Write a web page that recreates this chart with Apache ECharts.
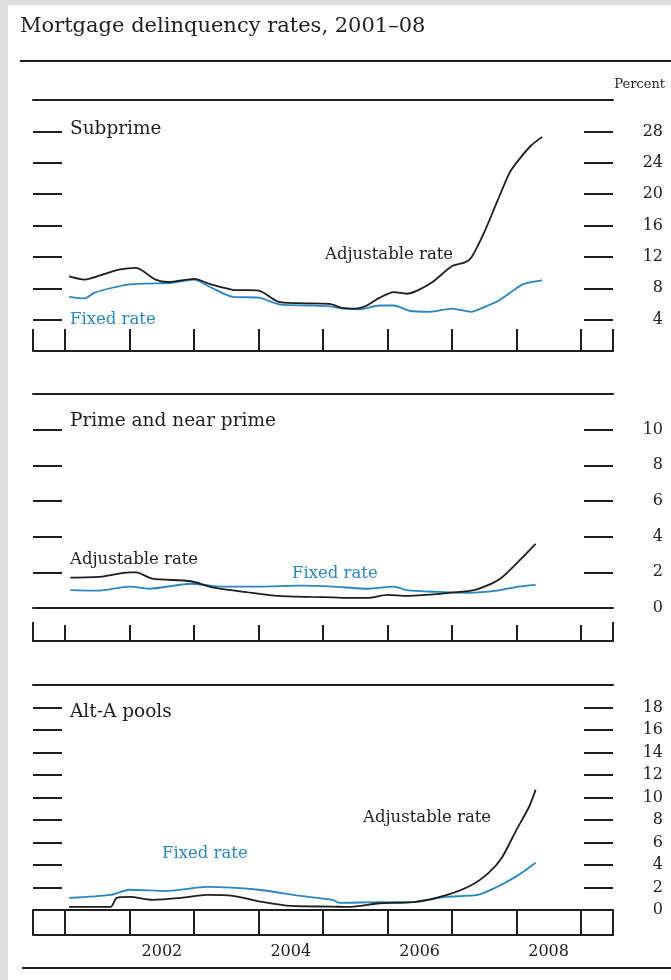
<!DOCTYPE html>
<html><head><meta charset="utf-8">
<script src="https://cdn.jsdelivr.net/npm/echarts@6/dist/echarts.min.js"></script>
<style>
html,body{margin:0;padding:0;background:#dedede;}
#wrap{position:relative;width:671px;height:980px;overflow:hidden;}
#paper{position:absolute;left:8px;top:5px;right:0;bottom:0;background:#fff;}
#chart{position:absolute;left:0;top:0;width:671px;height:980px;}
</style></head><body>
<div id="wrap"><div id="paper"></div><div id="chart"></div></div>
<script>
// ---------- data (decimal years, percent) ----------
const subprimeAdjX = [2001.06,2001.3,2001.6,2001.85,2002.1,2002.4,2002.6,2003.0,2003.26,2003.6,2004.0,2004.3,2004.6,2005.1,2005.3,2005.5,2005.68,2005.88,2006.1,2006.3,2006.46,2006.7,2007.0,2007.2,2007.3,2007.5,2007.7,2007.9,2008.05,2008.23,2008.4];
const subprimeAdjY = [9.5,9.1,9.8,10.4,10.6,9.1,8.8,9.2,8.5,7.8,7.7,6.3,6.1,6.0,5.5,5.4,5.8,6.8,7.5,7.3,7.7,8.8,10.8,11.3,11.9,15.1,19.0,22.8,24.5,26.2,27.3];
const subprimeFixX = [2001.06,2001.3,2001.45,2001.7,2002.0,2002.3,2002.65,2003.0,2003.26,2003.6,2004.0,2004.35,2004.8,2005.1,2005.3,2005.57,2005.88,2006.1,2006.35,2006.66,2007.0,2007.3,2007.5,2007.7,2007.9,2008.1,2008.4];
const subprimeFixY = [6.9,6.7,7.4,8.0,8.5,8.6,8.7,9.1,8.1,6.9,6.8,5.9,5.8,5.7,5.4,5.3,5.8,5.8,5.1,5.0,5.4,5.0,5.6,6.3,7.4,8.5,9.0];

const primeAdjX = [2001.08,2001.57,2002.0,2002.1,2002.35,2002.95,2003.3,2003.9,2004.3,2004.8,2005.15,2005.4,2005.7,2006.0,2006.3,2006.6,2006.95,2007.3,2007.57,2007.77,2008.03,2008.3];
const primeAdjY = [1.7,1.76,2.0,2.0,1.65,1.5,1.14,0.85,0.68,0.62,0.6,0.57,0.57,0.74,0.68,0.74,0.85,0.97,1.3,1.7,2.6,3.6];
const primeFixX = [2001.08,2001.5,2002.0,2002.3,2002.95,2003.4,2004.0,2004.65,2005.15,2005.7,2006.1,2006.3,2006.8,2007.25,2007.7,2008.03,2008.3];
const primeFixY = [1.0,0.97,1.2,1.08,1.36,1.2,1.2,1.25,1.2,1.08,1.2,1.0,0.9,0.85,0.97,1.2,1.3];

const altaAdjX = [2001.06,2001.7,2001.8,2002.0,2002.35,2002.8,2003.2,2003.6,2004.08,2004.5,2005.15,2005.4,2005.88,2006.4,2006.9,2007.3,2007.57,2007.77,2008.0,2008.2,2008.3];
const altaAdjY = [0.27,0.27,1.07,1.16,0.9,1.07,1.34,1.25,0.7,0.36,0.3,0.27,0.6,0.7,1.3,2.2,3.3,4.6,7.1,9.2,10.7];
const altaFixX = [2001.06,2001.7,2002.0,2002.6,2003.2,2004.0,2004.65,2005.15,2005.25,2005.88,2006.4,2006.9,2007.4,2007.7,2008.03,2008.3];
const altaFixY = [1.07,1.34,1.8,1.7,2.05,1.8,1.25,0.9,0.63,0.7,0.7,1.16,1.34,2.05,3.1,4.2];

// ---------- axes / labels ----------
const xMin = 2000.5, xMax = 2009.5;
const yearLabels = ['2002','2004','2006','2008'];
const panelNames = ['Subprime','Prime and near prime','Alt-A pools'];
const panelMax = [32, 12, 20];
const panelInterval = [4, 2, 2];
const title = 'Mortgage delinquency rates, 2001\u201308';
const unitLabel = 'Percent';
const adjLabel = 'Adjustable rate';
const fixLabel = 'Fixed rate';

// ---------- styling ----------
const FONT = '"DejaVu Serif", serif';
const INK = '#1e1e1e';
const BLUE = '#2a86c1';

const halfYears = [];
for (let v = xMin; v <= xMax + 1e-9; v += 0.5) halfYears.push(String(v));
const isEdge = i => i === 0 || i === halfYears.length - 1;
const isTick = (i, v) => Number.isInteger(Number(v)) || isEdge(i);
const labelOf = v => String(Number(v) - 0.5);
const isLabel = (i, v) => yearLabels.indexOf(labelOf(v)) >= 0;

const grids = [
  {left: 33, right: 58, top: 100, height: 251},
  {left: 33, right: 58, top: 394, height: 214},
  {left: 33, right: 58, top: 685, height: 225}
];
// bottom axis rows per panel: [offset, tick length, labels, tick filter]
const rows = [
  [[0, 22, false, isTick]],
  [[0, 0, false, isTick], [33, 16, false, isTick], [33, 19, false, isEdge]],
  [[0, 0, false, isTick], [25, 25, true, isTick]]
];

const xAxis = [], yAxis = [], series = [];
const valueAxisIdx = [];
grids.forEach((g, i) => {
  valueAxisIdx.push(xAxis.length);
  xAxis.push({type: 'value', gridIndex: i, position: 'top', min: xMin, max: xMax,
    axisLine: {show: true, onZero: false, lineStyle: {color: INK, width: 2}},
    axisTick: {show: false}, axisLabel: {show: false}, splitLine: {show: false}});
  rows[i].forEach(r => {
    xAxis.push({type: 'category', gridIndex: i, position: 'bottom', offset: r[0],
      data: halfYears, boundaryGap: false,
      axisLine: {show: true, onZero: false, lineStyle: {color: INK, width: 2}},
      axisTick: {show: r[1] > 0, inside: true, length: r[1], interval: r[3],
        lineStyle: {color: INK, width: 2}},
      axisLabel: {show: r[2], interval: isLabel, formatter: labelOf, margin: 9,
        fontFamily: FONT, fontSize: 16, color: INK},
      splitLine: {show: false}});
  });
  ['left', 'right'].forEach(side => {
    yAxis.push({type: 'value', gridIndex: i, position: side, min: 0, max: panelMax[i],
      interval: panelInterval[i],
      axisLine: {show: false},
      axisTick: {show: true, inside: true, length: 29, lineStyle: {color: INK, width: 2}},
      axisLabel: {show: side === 'right', margin: 50, align: 'right',
        showMaxLabel: false, showMinLabel: i !== 0,
        fontFamily: FONT, fontSize: 16, color: INK},
      splitLine: {show: false}});
  });
});

function pairs(xs, ys) { return xs.map((x, k) => [x, ys[k]]); }
const lineData = [
  [pairs(subprimeAdjX, subprimeAdjY), pairs(subprimeFixX, subprimeFixY)],
  [pairs(primeAdjX, primeAdjY), pairs(primeFixX, primeFixY)],
  [pairs(altaAdjX, altaAdjY), pairs(altaFixX, altaFixY)]
];
lineData.forEach((pd, i) => {
  [[pd[1], BLUE, 'Fixed rate'], [pd[0], INK, 'Adjustable rate']].forEach(s => {
    series.push({type: 'line', name: s[2], xAxisIndex: valueAxisIdx[i], yAxisIndex: i * 2,
      data: s[0], showSymbol: false, smooth: 0.25,
      lineStyle: {color: s[1], width: 1.8}, z: s[1] === INK ? 3 : 2});
  });
});

function txt(text, x, y, size, color, align) {
  return {type: 'text', x: x, y: y, z: 10,
    style: {text: text, fontFamily: FONT, fontSize: size, fill: color,
      align: align || 'left', verticalAlign: 'middle'}};
}
function hline(x1, x2, y) {
  return {type: 'line', z: 10, shape: {x1: x1, y1: y, x2: x2, y2: y},
    style: {stroke: INK, lineWidth: 2}};
}

const graphic = [
  txt(title, 20, 27, 21, INK),
  hline(20, 671, 61),
  txt(unitLabel, 665, 85, 13, INK, 'right'),
  hline(22, 671, 968),
  txt(panelNames[0], 70, 129, 18.5, INK),
  txt(panelNames[1], 70, 421, 18.5, INK),
  txt(panelNames[2], 70, 712, 18.5, INK),
  txt(adjLabel, 325, 255, 16.5, INK),
  txt(fixLabel, 70, 320, 16.5, BLUE),
  txt(adjLabel, 70, 560, 16.5, INK),
  txt(fixLabel, 292, 574, 16.5, BLUE),
  txt(fixLabel, 162, 854, 16.5, BLUE),
  txt(adjLabel, 363, 818, 16.5, INK)
];

const chart = echarts.init(document.getElementById('chart'), null, {renderer: 'canvas'});
chart.setOption({
  animation: false,
  backgroundColor: 'transparent',
  grid: grids,
  xAxis: xAxis,
  yAxis: yAxis,
  series: series,
  graphic: graphic
});
</script>
</body></html>
